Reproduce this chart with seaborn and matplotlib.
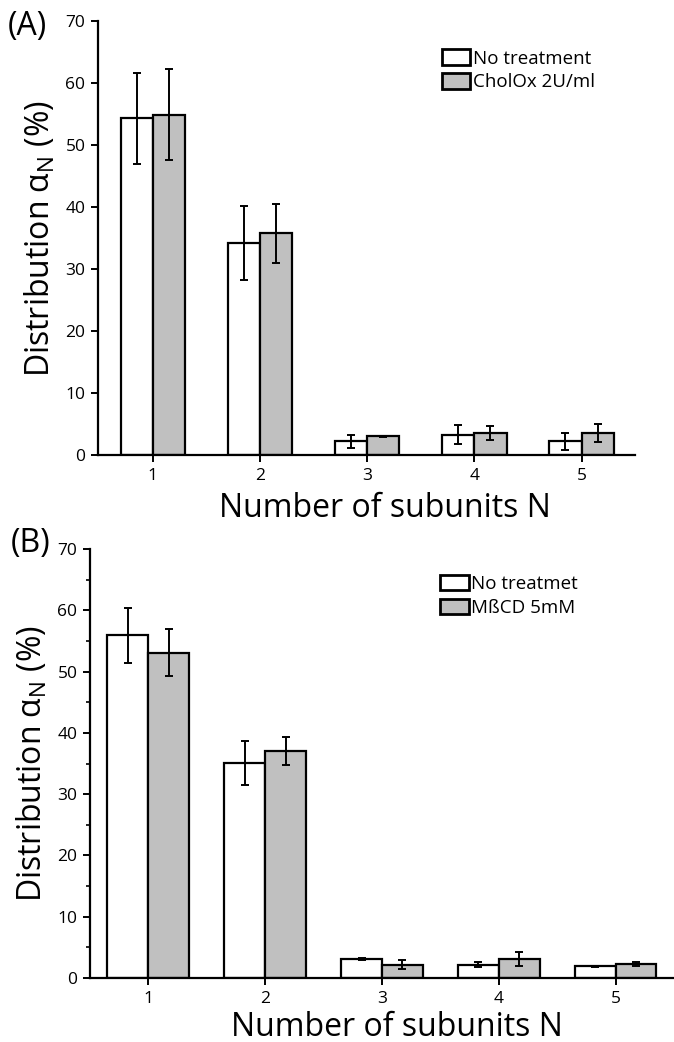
import pandas as pd
import numpy as np
import matplotlib
matplotlib.use("Agg")
import matplotlib.pyplot as plt
import seaborn as sns
from matplotlib.patches import Patch
from matplotlib.ticker import MultipleLocator

# Panel A data (CholOx)
subunits = ['1', '2', '3', '4', '5']
a_ctrl = [54.3, 34.2, 2.2, 3.3, 2.2]
a_ctrl_err = [7.3, 5.9, 1.0, 1.55, 1.4]
a_treat = [54.9, 35.8, 3.0, 3.55, 3.55]
a_treat_err = [7.3, 4.75, 0.15, 1.2, 1.45]
a_labels = ['No treatment', 'CholOx 2U/ml']

# Panel B data (MbCD)
b_ctrl = [55.9, 35.1, 3.1, 2.2, 1.9]
b_ctrl_err = [4.55, 3.55, 0.15, 0.45, 0.1]
b_treat = [53.1, 37.1, 2.2, 3.1, 2.3]
b_treat_err = [3.8, 2.3, 0.7, 1.1, 0.35]
b_labels = ['No treatmet', 'MßCD 5mM']

sns.set_style("ticks")
plt.rcParams['font.family'] = ['Open Sans', 'DejaVu Sans']
plt.rcParams['mathtext.fontset'] = 'custom'
plt.rcParams['mathtext.rm'] = 'Open Sans'
for k in ['text.color', 'axes.labelcolor', 'xtick.color', 'ytick.color', 'axes.edgecolor']:
    plt.rcParams[k] = 'black'

colors = ['white', '#c0c0c0']

fig = plt.figure(figsize=(6.74, 10.42), dpi=100)
ax_a = fig.add_axes([0.1454, 0.5633, 0.797, 0.4165])
ax_b = fig.add_axes([0.1335, 0.0614, 0.8665, 0.4117])


def draw_panel(ax, ctrl, ctrl_err, treat, treat_err, labels, width, xlim, minor,
               leg_pos, xlab_pos):
    df = pd.DataFrame({
        'N': subunits * 2,
        'value': ctrl + treat,
        'err': ctrl_err + treat_err,
        'group': [labels[0]] * 5 + [labels[1]] * 5,
    })
    sns.barplot(data=df, x='N', y='value', hue='group', hue_order=labels,
                palette=colors, width=width, edgecolor='black', linewidth=1.6,
                errorbar=None, legend=False, saturation=1, ax=ax)
    # error bars on each bar centre
    xs = [p.get_x() + p.get_width() / 2 for p in ax.patches]
    ax.errorbar(xs, df['value'], yerr=df['err'], fmt='none', ecolor='black',
                elinewidth=1.4, capsize=3, capthick=1.4, zorder=5)
    ax.set_xlim(*xlim)
    ax.set_ylim(0, 70)
    ax.yaxis.set_major_locator(MultipleLocator(10))
    if minor:
        ax.yaxis.set_minor_locator(MultipleLocator(5))
    sns.despine(ax=ax)
    for s in ['left', 'bottom']:
        ax.spines[s].set_linewidth(1.6)
    ax.tick_params(axis='both', which='major', length=5, width=1.4, labelsize=12.5,
                   direction='out', pad=4)
    ax.tick_params(axis='y', which='minor', length=3, width=1.2, direction='out')
    ax.set_xlabel('Number of subunits N', fontsize=23)
    ax.xaxis.set_label_coords(*xlab_pos)
    ax.set_ylabel(r'Distribution α$_\mathregular{N}$ (%)', fontsize=23, labelpad=6)
    handles = [Patch(facecolor=c, edgecolor='black', linewidth=2) for c in colors]
    ax.legend(handles, labels, loc='upper left', bbox_to_anchor=leg_pos,
              frameon=False, fontsize=13.5, handlelength=1.5, handleheight=0.9,
              handletextpad=0.15, labelspacing=0.3, borderpad=0, borderaxespad=0)


draw_panel(ax_a, a_ctrl, a_ctrl_err, a_treat, a_treat_err, a_labels,
           0.6, (-0.51, 4.5), False, (0.64, 0.935), (0.534, -0.085))
draw_panel(ax_b, b_ctrl, b_ctrl_err, b_treat, b_treat_err, b_labels,
           0.7, (-0.5, 4.5), True, (0.60, 0.94), (0.526, -0.076))

fig.text(0.012, 0.99, '(A)', fontsize=23, va='top', ha='left')
fig.text(0.016, 0.494, '(B)', fontsize=23, va='top', ha='left')

fig.savefig('out.png', dpi=100)
